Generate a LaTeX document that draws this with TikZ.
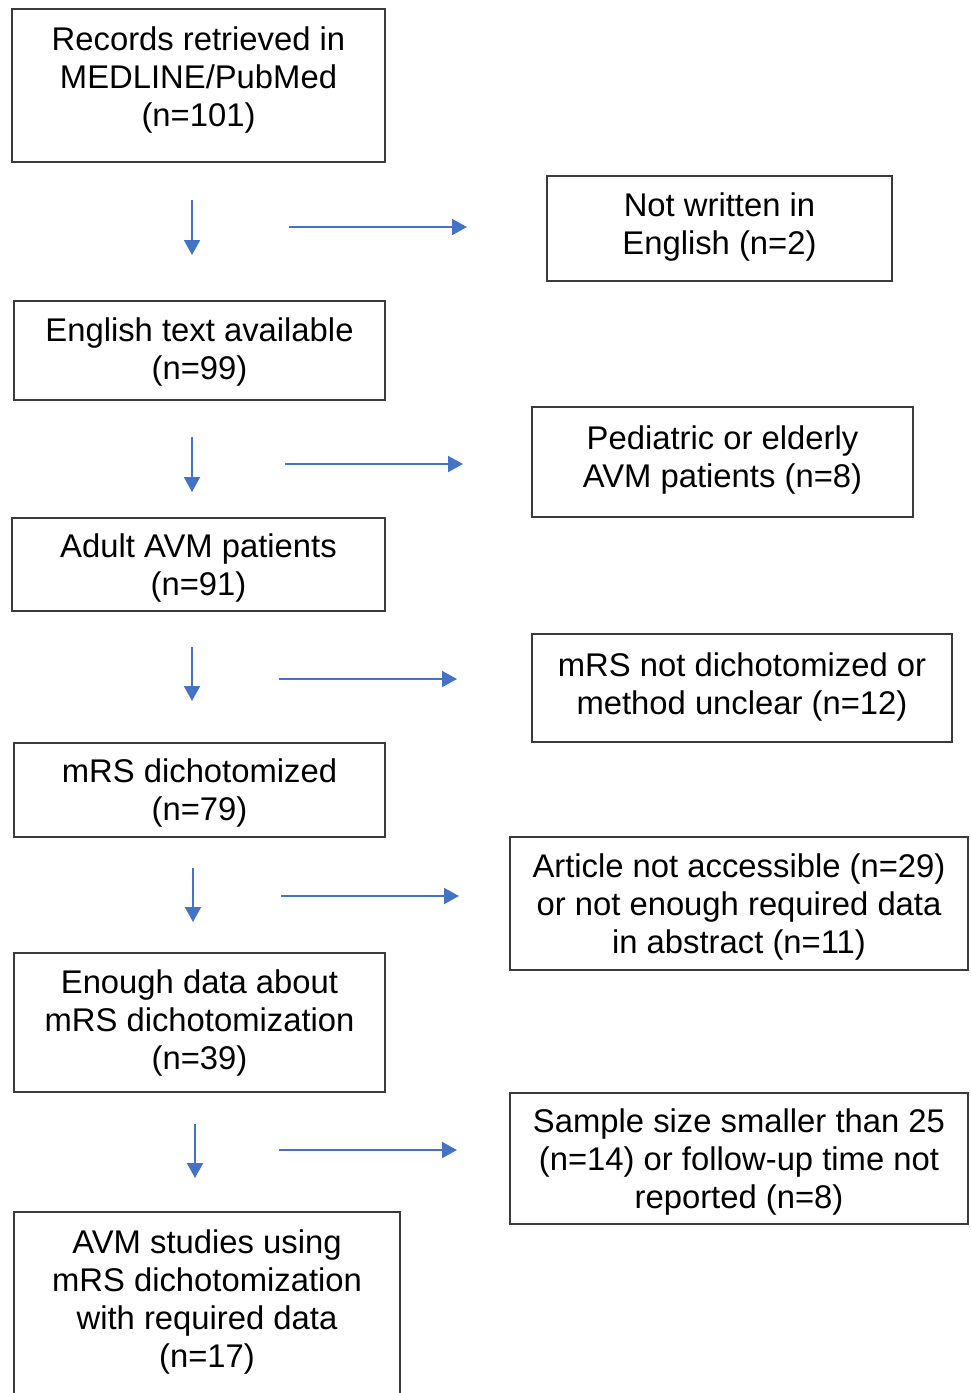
\documentclass[tikz,border=0pt]{standalone}
\usepackage{fontspec}
\setmainfont{Liberation Sans}
\usetikzlibrary{arrows.meta}
\definecolor{arrblue}{HTML}{4472C4}
\definecolor{boxgray}{HTML}{3A3A3A}
\begin{document}
\begin{tikzpicture}[x=1pt,y=-1pt,
  box/.style={draw=boxgray, line width=1.3pt, align=center, inner sep=0pt,
    font=\fontsize{32.8}{38}\selectfont},
  arr/.style={draw=arrblue, line width=2pt, -{Triangle[width=16pt,length=15pt]}}]
\useasboundingbox (0,0) rectangle (970,1393);
% main column
\node[box, minimum width=373, minimum height=153, text depth=16.9pt] (n1) at (198.5,85.5) {Records retrieved in\\MEDLINE/PubMed\\(n=101)};
\node[box, minimum width=371, minimum height=99, text depth=2.9pt] (n3) at (199.5,350.5) {English text available\\(n=99)};
\node[box, minimum width=373, minimum height=93, text depth=-1.1pt] (n5) at (198.5,564.5) {Adult AVM patients\\(n=91)};
\node[box, minimum width=371, minimum height=94, text depth=-1.1pt] (n7) at (199.5,790) {mRS dichotomized\\(n=79)};
\node[box, minimum width=371, minimum height=139, text depth=4.9pt] (n9) at (199.5,1022.5) {Enough data about\\mRS dichotomization\\(n=39)};
\node[box, minimum width=386, minimum height=188, text depth=14pt] (n11) at (207,1306) {AVM studies using\\mRS dichotomization\\with required data\\(n=17)};
% exclusion column
\node[box, minimum width=345, minimum height=105, text depth=8.9pt] (n2) at (719.5,228.5) {Not written in\\English (n=2)};
\node[box, minimum width=381, minimum height=110, text depth=10.9pt] (n4) at (722.5,462) {Pediatric or elderly\\AVM patients (n=8)};
\node[box, minimum width=420, minimum height=108, text depth=8.9pt] (n6) at (742,688) {mRS not dichotomized or\\method unclear (n=12)};
\node[box, minimum width=458, minimum height=133, text depth=-1.1pt] (n8) at (739,903.5) {Article not accessible (n=29)\\or not enough required data\\in abstract (n=11)};
\node[box, minimum width=458, minimum height=131, text depth=-3.1pt] (n10) at (739,1158.5) {Sample size smaller than 25\\(n=14) or follow-up time not\\reported (n=8)};
% arrows
\coordinate (d1s) at (192,200); \coordinate (d1e) at (192,255);
\coordinate (r1s) at (289,227); \coordinate (r1e) at (467,227);
\coordinate (d2s) at (192,437); \coordinate (d2e) at (192,492);
\coordinate (r2s) at (285,464); \coordinate (r2e) at (463,464);
\coordinate (d3s) at (192,647); \coordinate (d3e) at (192,701);
\coordinate (r3s) at (279,679); \coordinate (r3e) at (457,679);
\coordinate (d4s) at (193,868); \coordinate (d4e) at (193,922);
\coordinate (r4s) at (281,896); \coordinate (r4e) at (459,896);
\coordinate (d5s) at (195,1124); \coordinate (d5e) at (195,1178);
\coordinate (r5s) at (279,1150); \coordinate (r5e) at (457,1150);
\draw[arr] (d1s) -- (d1e);
\draw[arr] (r1s) -- (r1e);
\draw[arr] (d2s) -- (d2e);
\draw[arr] (r2s) -- (r2e);
\draw[arr] (d3s) -- (d3e);
\draw[arr] (r3s) -- (r3e);
\draw[arr] (d4s) -- (d4e);
\draw[arr] (r4s) -- (r4e);
\draw[arr] (d5s) -- (d5e);
\draw[arr] (r5s) -- (r5e);
\end{tikzpicture}
\end{document}
